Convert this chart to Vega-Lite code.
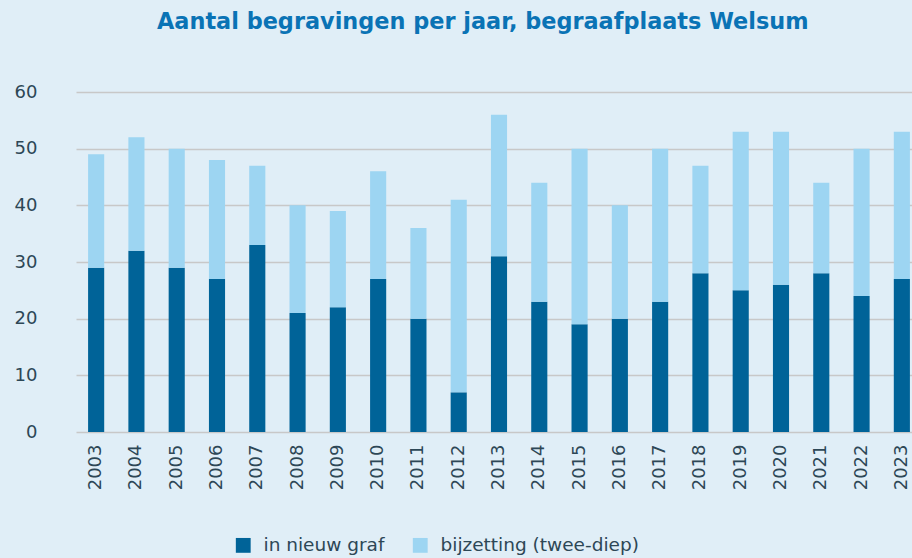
{
  "$schema": "https://vega.github.io/schema/vega-lite/v6.json",
  "width": 846,
  "height": 340,
  "autosize": {"type": "none"},
  "padding": {"left": 76, "top": 92, "right": 0, "bottom": 126},
  "background": "#e0eef7",
  "title": {
    "text": "Aantal begravingen per jaar, begraafplaats Welsum",
    "font": "DejaVu Sans",
    "fontSize": 22.4,
    "fontWeight": "bold",
    "color": "#0a73b5",
    "anchor": "start",
    "frame": "group",
    "dx": 81,
    "offset": 50
  },
  "data": {
    "values": [
      {"jaar": "2003", "soort": "in nieuw graf", "aantal": 29},
      {"jaar": "2003", "soort": "bijzetting (twee-diep)", "aantal": 20},
      {"jaar": "2004", "soort": "in nieuw graf", "aantal": 32},
      {"jaar": "2004", "soort": "bijzetting (twee-diep)", "aantal": 20},
      {"jaar": "2005", "soort": "in nieuw graf", "aantal": 29},
      {"jaar": "2005", "soort": "bijzetting (twee-diep)", "aantal": 21},
      {"jaar": "2006", "soort": "in nieuw graf", "aantal": 27},
      {"jaar": "2006", "soort": "bijzetting (twee-diep)", "aantal": 21},
      {"jaar": "2007", "soort": "in nieuw graf", "aantal": 33},
      {"jaar": "2007", "soort": "bijzetting (twee-diep)", "aantal": 14},
      {"jaar": "2008", "soort": "in nieuw graf", "aantal": 21},
      {"jaar": "2008", "soort": "bijzetting (twee-diep)", "aantal": 19},
      {"jaar": "2009", "soort": "in nieuw graf", "aantal": 22},
      {"jaar": "2009", "soort": "bijzetting (twee-diep)", "aantal": 17},
      {"jaar": "2010", "soort": "in nieuw graf", "aantal": 27},
      {"jaar": "2010", "soort": "bijzetting (twee-diep)", "aantal": 19},
      {"jaar": "2011", "soort": "in nieuw graf", "aantal": 20},
      {"jaar": "2011", "soort": "bijzetting (twee-diep)", "aantal": 16},
      {"jaar": "2012", "soort": "in nieuw graf", "aantal": 7},
      {"jaar": "2012", "soort": "bijzetting (twee-diep)", "aantal": 34},
      {"jaar": "2013", "soort": "in nieuw graf", "aantal": 31},
      {"jaar": "2013", "soort": "bijzetting (twee-diep)", "aantal": 25},
      {"jaar": "2014", "soort": "in nieuw graf", "aantal": 23},
      {"jaar": "2014", "soort": "bijzetting (twee-diep)", "aantal": 21},
      {"jaar": "2015", "soort": "in nieuw graf", "aantal": 19},
      {"jaar": "2015", "soort": "bijzetting (twee-diep)", "aantal": 31},
      {"jaar": "2016", "soort": "in nieuw graf", "aantal": 20},
      {"jaar": "2016", "soort": "bijzetting (twee-diep)", "aantal": 20},
      {"jaar": "2017", "soort": "in nieuw graf", "aantal": 23},
      {"jaar": "2017", "soort": "bijzetting (twee-diep)", "aantal": 27},
      {"jaar": "2018", "soort": "in nieuw graf", "aantal": 28},
      {"jaar": "2018", "soort": "bijzetting (twee-diep)", "aantal": 19},
      {"jaar": "2019", "soort": "in nieuw graf", "aantal": 25},
      {"jaar": "2019", "soort": "bijzetting (twee-diep)", "aantal": 28},
      {"jaar": "2020", "soort": "in nieuw graf", "aantal": 26},
      {"jaar": "2020", "soort": "bijzetting (twee-diep)", "aantal": 27},
      {"jaar": "2021", "soort": "in nieuw graf", "aantal": 28},
      {"jaar": "2021", "soort": "bijzetting (twee-diep)", "aantal": 16},
      {"jaar": "2022", "soort": "in nieuw graf", "aantal": 24},
      {"jaar": "2022", "soort": "bijzetting (twee-diep)", "aantal": 26},
      {"jaar": "2023", "soort": "in nieuw graf", "aantal": 27},
      {"jaar": "2023", "soort": "bijzetting (twee-diep)", "aantal": 26}
    ]
  },
  "mark": {"type": "bar"},
  "encoding": {
    "x": {
      "field": "jaar",
      "type": "ordinal",
      "scale": {"paddingInner": 0.6, "paddingOuter": 0.3},
      "axis": {
        "title": null,
        "labelAngle": -90,
        "labelFont": "DejaVu Sans",
        "labelFontSize": 18,
        "labelColor": "#2d4756",
        "labelPadding": 12,
        "ticks": false,
        "domain": false
      }
    },
    "y": {
      "field": "aantal",
      "type": "quantitative",
      "stack": "zero",
      "scale": {"domain": [0, 60]},
      "axis": {
        "title": null,
        "values": [0, 10, 20, 30, 40, 50, 60],
        "labelFont": "DejaVu Sans",
        "labelFontSize": 18,
        "labelColor": "#2d4756",
        "labelPadding": 39,
        "ticks": false,
        "domain": false,
        "gridColor": "#c8c8c8",
        "gridWidth": 1.5
      }
    },
    "color": {
      "field": "soort",
      "type": "nominal",
      "sort": ["in nieuw graf", "bijzetting (twee-diep)"],
      "scale": {
        "domain": ["in nieuw graf", "bijzetting (twee-diep)"],
        "range": ["#006398", "#9dd5f2"]
      },
      "legend": {
        "title": null,
        "orient": "none",
        "direction": "horizontal",
        "legendX": 158,
        "legendY": 444,
        "symbolType": "square",
        "symbolSize": 220,
        "symbolStrokeWidth": 0,
        "labelFont": "DejaVu Sans",
        "labelFontSize": 18.5,
        "labelLimit": 400,
        "labelColor": "#2d4756",
        "labelOffset": 11,
        "columnPadding": 26
      }
    },
    "order": {"field": "soort", "sort": "descending"}
  },
  "config": {"view": {"stroke": null}}
}
